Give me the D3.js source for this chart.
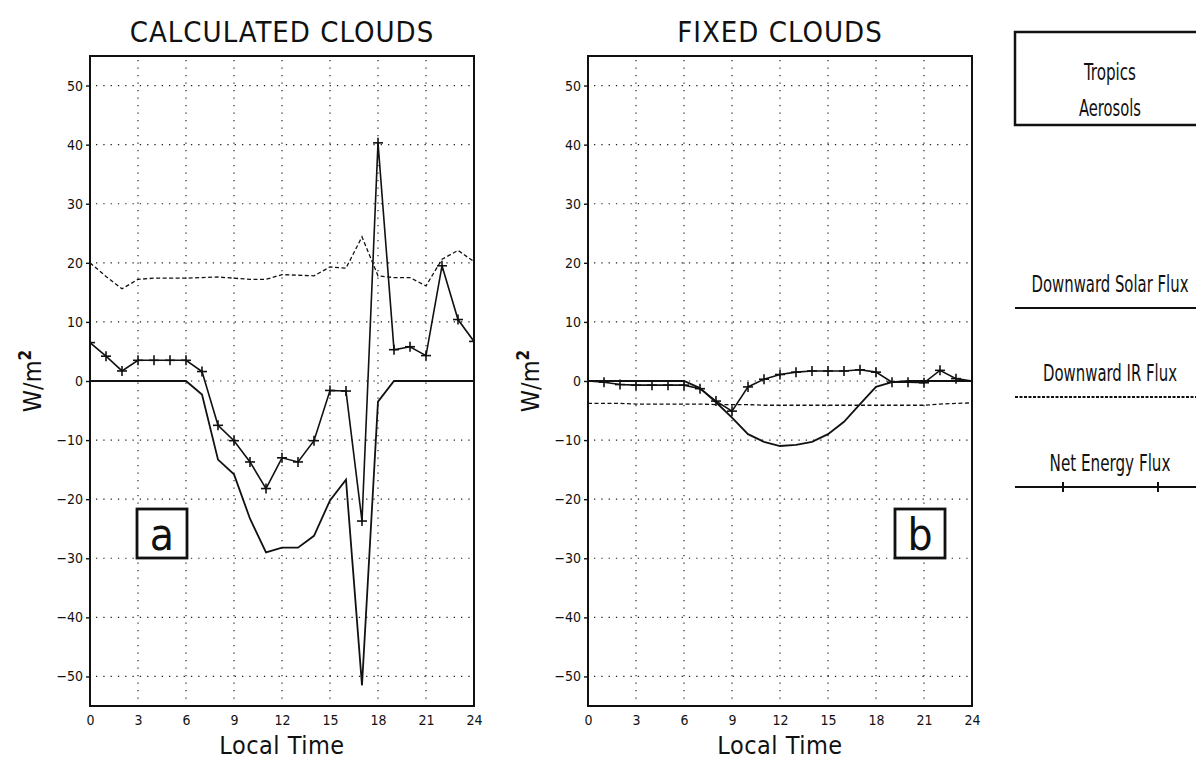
<!DOCTYPE html>
<html lang="en">
<head>
  <meta charset="UTF-8">
  <title>Calculated vs Fixed Clouds</title>
  <style>
  body { margin: 0; background: #fff; }
  svg { display: block; }
  text { fill: #111; font-family: "DejaVu Sans Condensed", "DejaVu Sans", sans-serif; }
  .legend text { font-family: "Liberation Sans Narrow", "DejaVu Sans Condensed", "DejaVu Sans", sans-serif; }
  </style>
</head>
<body>
<svg id="chart"></svg>
<script src="https://d3js.org/d3.v7.min.js"></script>
<script>
// Local time (hours)
const hours = [0, 1, 2, 3, 4, 5, 6, 7, 8, 9, 10, 11, 12, 13, 14, 15, 16, 17, 18, 19, 20, 21, 22, 23, 24];
const xTicks = [0, 3, 6, 9, 12, 15, 18, 21, 24];
const yTicks = [-50, -40, -30, -20, -10, 0, 10, 20, 30, 40, 50];

// panel a: calculated clouds
const calcSolar = [0, 0, 0, 0, 0, 0, 0, -2.3, -13.3, -15.8, -23.3, -29.0, -28.2, -28.2, -26.2, -20.2, -16.7, -51.5, -3.5, 0, 0, 0, 0, 0, 0];
const calcIR = [20.0, 17.7, 15.6, 17.2, 17.4, 17.4, 17.4, 17.5, 17.6, 17.4, 17.2, 17.2, 18.0, 17.9, 17.8, 19.3, 19.1, 24.4, 17.8, 17.5, 17.5, 16.1, 20.6, 22.1, 20.2];
const calcNet = [6.5, 4.2, 1.7, 3.5, 3.5, 3.5, 3.5, 1.6, -7.5, -10.1, -13.7, -18.2, -13.0, -13.7, -10.1, -1.6, -1.7, -23.7, 40.3, 5.3, 5.8, 4.3, 19.5, 10.4, 6.7];

// panel b: fixed clouds
const fixedSolar = [0, 0, 0, 0, 0, 0, 0, -1.2, -3.6, -6.2, -9.0, -10.3, -11.0, -10.8, -10.3, -9.0, -6.9, -3.9, -1.0, -0.2, 0, 0, 0, 0, 0];
const fixedIR = [-3.8, -3.8, -3.8, -3.9, -3.9, -3.9, -3.9, -3.9, -4.0, -4.0, -4.0, -4.1, -4.1, -4.1, -4.1, -4.1, -4.1, -4.1, -4.1, -4.1, -4.1, -4.1, -3.9, -3.8, -3.7];
const fixedNet = [0, -0.2, -0.6, -0.7, -0.7, -0.7, -0.7, -1.3, -3.4, -5.1, -1.0, 0.3, 1.1, 1.5, 1.7, 1.7, 1.7, 1.9, 1.5, -0.2, -0.2, -0.3, 1.8, 0.4, 0];

const legendLabels = ["Downward Solar Flux", "Downward IR Flux", "Net Energy Flux"];
const boxLines = ["Tropics", "Aerosols"];

const W = 1196, H = 762;
const svg = d3.select("#chart").attr("width", W).attr("height", H);

const plotTop = 56, plotBottom = 706, pw = 384;

const yScale = d3.scaleLinear().domain([-55, 55]).range([plotBottom, plotTop]);

function drawPanel(x0, title, letter, letterX, solar, ir, net) {
  const xScale = d3.scaleLinear().domain([0, 24]).range([x0, x0 + pw]);
  const g = svg.append("g");
  const clipId = "clip" + letter;

  g.append("clipPath").attr("id", clipId)
    .append("rect").attr("x", x0).attr("y", plotTop).attr("width", pw).attr("height", plotBottom - plotTop);

  // dotted grid
  g.selectAll(".vgrid").data(xTicks.slice(1, -1)).enter().append("line")
    .attr("x1", d => xScale(d)).attr("x2", d => xScale(d))
    .attr("y1", plotTop + 4).attr("y2", plotBottom - 2)
    .attr("stroke", "#222").attr("stroke-width", 1.2)
    .attr("stroke-dasharray", "1.3,6.2");
  g.selectAll(".hgrid").data(yTicks).enter().append("line")
    .attr("x1", x0 + 6).attr("x2", x0 + pw - 2)
    .attr("y1", d => yScale(d)).attr("y2", d => yScale(d))
    .attr("stroke", "#222").attr("stroke-width", 1.2)
    .attr("stroke-dasharray", "1.3,6");

  // axes
  const yAxis = d3.axisLeft(yScale).tickValues(yTicks).tickSize(4).tickPadding(3)
    .tickFormat(d => d < 0 ? "\u2212" + Math.abs(d) : d);
  const ya = g.append("g").attr("transform", `translate(${x0},0)`).call(yAxis);
  ya.select(".domain").remove();
  ya.selectAll("line").attr("stroke", "#111").attr("stroke-width", 1.4);
  ya.selectAll("text").attr("font-size", 14).attr("fill", "#111");

  const xAxis = d3.axisBottom(xScale).tickValues(xTicks).tickSize(0).tickPadding(9);
  const xa = g.append("g").attr("transform", `translate(0,${plotBottom})`).call(xAxis);
  xa.select(".domain").remove();
  xa.selectAll("text").attr("font-size", 14).attr("fill", "#111");

  // frame
  g.append("rect").attr("x", x0).attr("y", plotTop).attr("width", pw).attr("height", plotBottom - plotTop)
    .attr("fill", "none").attr("stroke", "#111").attr("stroke-width", 2);

  const line = d3.line().x((d, i) => xScale(hours[i])).y(d => yScale(d));
  const lines = g.append("g").attr("clip-path", `url(#${clipId})`);

  lines.append("path").datum(ir).attr("d", line)
    .attr("fill", "none").attr("stroke", "#111").attr("stroke-width", 1.3)
    .attr("stroke-dasharray", "4,2.5");
  lines.append("path").datum(solar).attr("d", line)
    .attr("fill", "none").attr("stroke", "#111").attr("stroke-width", 1.8);
  lines.append("path").datum(net).attr("d", line)
    .attr("fill", "none").attr("stroke", "#111").attr("stroke-width", 1.6);

  const m = 5;
  const marks = lines.selectAll(".mk").data(net).enter().append("g")
    .attr("transform", (d, i) => `translate(${xScale(hours[i])},${yScale(d)})`);
  marks.append("line").attr("x1", -m).attr("x2", m).attr("y1", 0).attr("y2", 0)
    .attr("stroke", "#111").attr("stroke-width", 1.6);
  marks.append("line").attr("x1", 0).attr("x2", 0).attr("y1", -m).attr("y2", m)
    .attr("stroke", "#111").attr("stroke-width", 1.6);

  // titles
  g.append("text").attr("x", x0 + pw / 2).attr("y", 42).attr("text-anchor", "middle")
    .attr("font-size", 29).attr("letter-spacing", 1).text(title);
  g.append("text").attr("x", x0 + pw / 2).attr("y", 754).attr("text-anchor", "middle")
    .attr("font-size", 25).attr("letter-spacing", 0.5).text("Local Time");

  const yl = g.append("text")
    .attr("transform", `translate(${x0 - 49},${yScale(0)}) rotate(-90)`)
    .attr("text-anchor", "middle").attr("font-size", 25);
  yl.append("tspan").text("W/m");
  yl.append("tspan").attr("font-size", 17).attr("font-weight", "bold").attr("dy", -10).text("2");

  // panel letter box
  g.append("rect").attr("x", letterX).attr("y", 509).attr("width", 50).attr("height", 49)
    .attr("fill", "#fff").attr("stroke", "#111").attr("stroke-width", 2.8);
  g.append("text").attr("x", letterX + 25).attr("y", 550).attr("text-anchor", "middle")
    .attr("font-size", 44).text(letter);
}

drawPanel(90, "CALCULATED CLOUDS", "a", 137, calcSolar, calcIR, calcNet);
drawPanel(588, "FIXED CLOUDS", "b", 895, fixedSolar, fixedIR, fixedNet);

// legend: narrow lettering, squeezed horizontally to the widths seen in the figure
const lg = svg.append("g").attr("class", "legend");
lg.append("rect").attr("x", 1015).attr("y", 32).attr("width", 200).attr("height", 93)
  .attr("fill", "none").attr("stroke", "#111").attr("stroke-width", 2.5);

function squeezed(txt, cx, y, width) {
  const t = lg.append("text").attr("text-anchor", "middle").attr("font-size", 23).text(txt);
  const natural = t.node().getComputedTextLength();
  const k = Math.min(1, width / natural);
  t.attr("transform", `translate(${cx},${y}) scale(${k},1)`);
}

const boxWidths = [52, 62];
boxLines.forEach((d, i) => squeezed(d, 1110, 80 + i * 36, boxWidths[i]));

const legendY = [308, 397, 487];
const legendWidths = [157, 134, 121];
legendLabels.forEach((d, i) => squeezed(d, 1110, legendY[i] - 16, legendWidths[i]));

const dashes = [null, "3,1.5", null];
const widths = [2.2, 1.8, 2.2];
lg.selectAll(".ll").data(legendLabels).enter().append("line")
  .attr("x1", 1015).attr("x2", 1196)
  .attr("y1", (d, i) => legendY[i]).attr("y2", (d, i) => legendY[i])
  .attr("stroke", "#111").attr("stroke-width", (d, i) => widths[i])
  .attr("stroke-dasharray", (d, i) => dashes[i]);
[1063, 1158].forEach(x => {
  lg.append("line").attr("x1", x).attr("x2", x).attr("y1", legendY[2] - 5).attr("y2", legendY[2] + 5)
    .attr("stroke", "#111").attr("stroke-width", 2);
});
</script>
</body>
</html>
